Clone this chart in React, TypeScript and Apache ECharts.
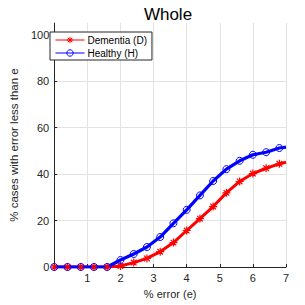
import React, { useEffect, useRef } from "react";
import * as echarts from "echarts";

const errorSteps = [0, 0.4, 0.8, 1.2, 1.6, 2.0, 2.4, 2.8, 3.2, 3.6, 4.0, 4.4, 4.8, 5.2, 5.6, 6.0, 6.4, 6.8, 7.0];
const dementia = [0, 0, 0, 0, 0, 0.4, 1.9, 3.7, 6.6, 10.5, 15.7, 20.8, 26, 31.9, 36.8, 40.2, 42.5, 44.4, 45.1];
const healthy = [0, 0, 0, 0, 0, 3, 5.6, 8.6, 12.9, 18.8, 24.6, 30.8, 37, 42.1, 45.7, 48.3, 49.4, 51.2, 51.6];
const yTicks = [0, 20, 40, 60, 80, 100];

const FONT = "'Liberation Sans', Arial, sans-serif";
const AX = "#262626";
const STAR = "path://M5 0 L5 10 M0 5 L10 5 M1.5 1.5 L8.5 8.5 M8.5 1.5 L1.5 8.5";

function mk(vals: number[]) {
  return errorSteps.map((x, i) =>
    i === errorSteps.length - 1 ? { value: [x, vals[i]], symbol: "none" } : { value: [x, vals[i]] }
  );
}

export default function App() {
  const ref = useRef<HTMLDivElement>(null);
  useEffect(() => {
    const chart = echarts.init(ref.current!, null, { renderer: "svg" });
    chart.setOption({
      animation: false,
      backgroundColor: "#fff",
      title: {
        text: "Whole",
        left: 163,
        top: 1,
        textAlign: "center",
        textStyle: { fontFamily: FONT, fontSize: 17, fontWeight: "normal", color: "#000" },
      },
      legend: {
        left: 50,
        top: 32,
        orient: "vertical",
        itemGap: 3,
        itemWidth: 29,
        itemHeight: 8,
        padding: [3, 5, 2, 5],
        borderColor: AX,
        borderWidth: 1,
        backgroundColor: "#fff",
        lineStyle: { width: 1 },
        textStyle: { fontFamily: FONT, fontSize: 10, color: "#000", padding: [0, 0, 0, -2] },
        data: [
          {
            name: "Dementia (D)",
            itemStyle: { color: "rgba(0,0,0,0)", borderColor: "#ff0000", borderWidth: 1 },
          },
          {
            name: "Healthy (H)",
            itemStyle: { color: "rgba(0,0,0,0)", borderColor: "#0000ff", borderWidth: 1 },
          },
        ],
      },
      grid: { left: 41, right: 19, top: 23, bottom: 38 },
      xAxis: {
        type: "value",
        min: 0,
        max: 7,
        interval: 1,
        name: "% error (e)",
        nameLocation: "middle",
        nameGap: 21,
        nameTextStyle: { fontFamily: FONT, fontSize: 11, color: AX },
        axisLine: { show: true, lineStyle: { color: AX, width: 1 } },
        axisTick: { show: true, inside: true, length: 3, lineStyle: { color: AX } },
        axisLabel: {
          fontFamily: FONT,
          fontSize: 11,
          color: AX,
          margin: 5,
          formatter: (v: number) => (v === 0 ? "" : String(v)),
        },
        splitLine: { show: true, lineStyle: { color: "#e3e3e3", width: 1 } },
      },
      yAxis: {
        type: "value",
        min: 0,
        max: 105,
        interval: 20,
        name: "% cases with error less than e",
        nameLocation: "middle",
        nameGap: 25,
        nameTextStyle: { fontFamily: FONT, fontSize: 11.5, color: AX },
        axisLine: { show: true, lineStyle: { color: AX, width: 1 } },
        axisTick: { show: true, inside: true, length: 3, lineStyle: { color: AX }, customValues: yTicks },
        axisLabel: { fontFamily: FONT, fontSize: 11, color: AX, margin: 5, customValues: yTicks },
        splitLine: { show: true, showMaxLine: false, lineStyle: { color: "#e3e3e3", width: 1 } },
      },
      series: [
        {
          name: "Dementia (D)",
          type: "line",
          data: mk(dementia),
          color: "#ff0000",
          symbol: STAR,
          symbolSize: 8,
          showAllSymbol: true,
          lineStyle: { color: "#ff0000", width: 3 },
          itemStyle: { color: "#ff0000", borderColor: "#ff0000", borderWidth: 1.2 },
        },
        {
          name: "Healthy (H)",
          type: "line",
          data: mk(healthy),
          color: "#0000ff",
          symbol: "circle",
          symbolSize: 7,
          showAllSymbol: true,
          lineStyle: { color: "#0000ff", width: 3.2 },
          itemStyle: { color: "rgba(0,0,0,0)", borderColor: "#0000ff", borderWidth: 1 },
        },
      ],
    });
    return () => chart.dispose();
  }, []);
  return <div ref={ref} style={{ width: 305, height: 305, position: "absolute", left: 0, top: 0 }} />;
}
